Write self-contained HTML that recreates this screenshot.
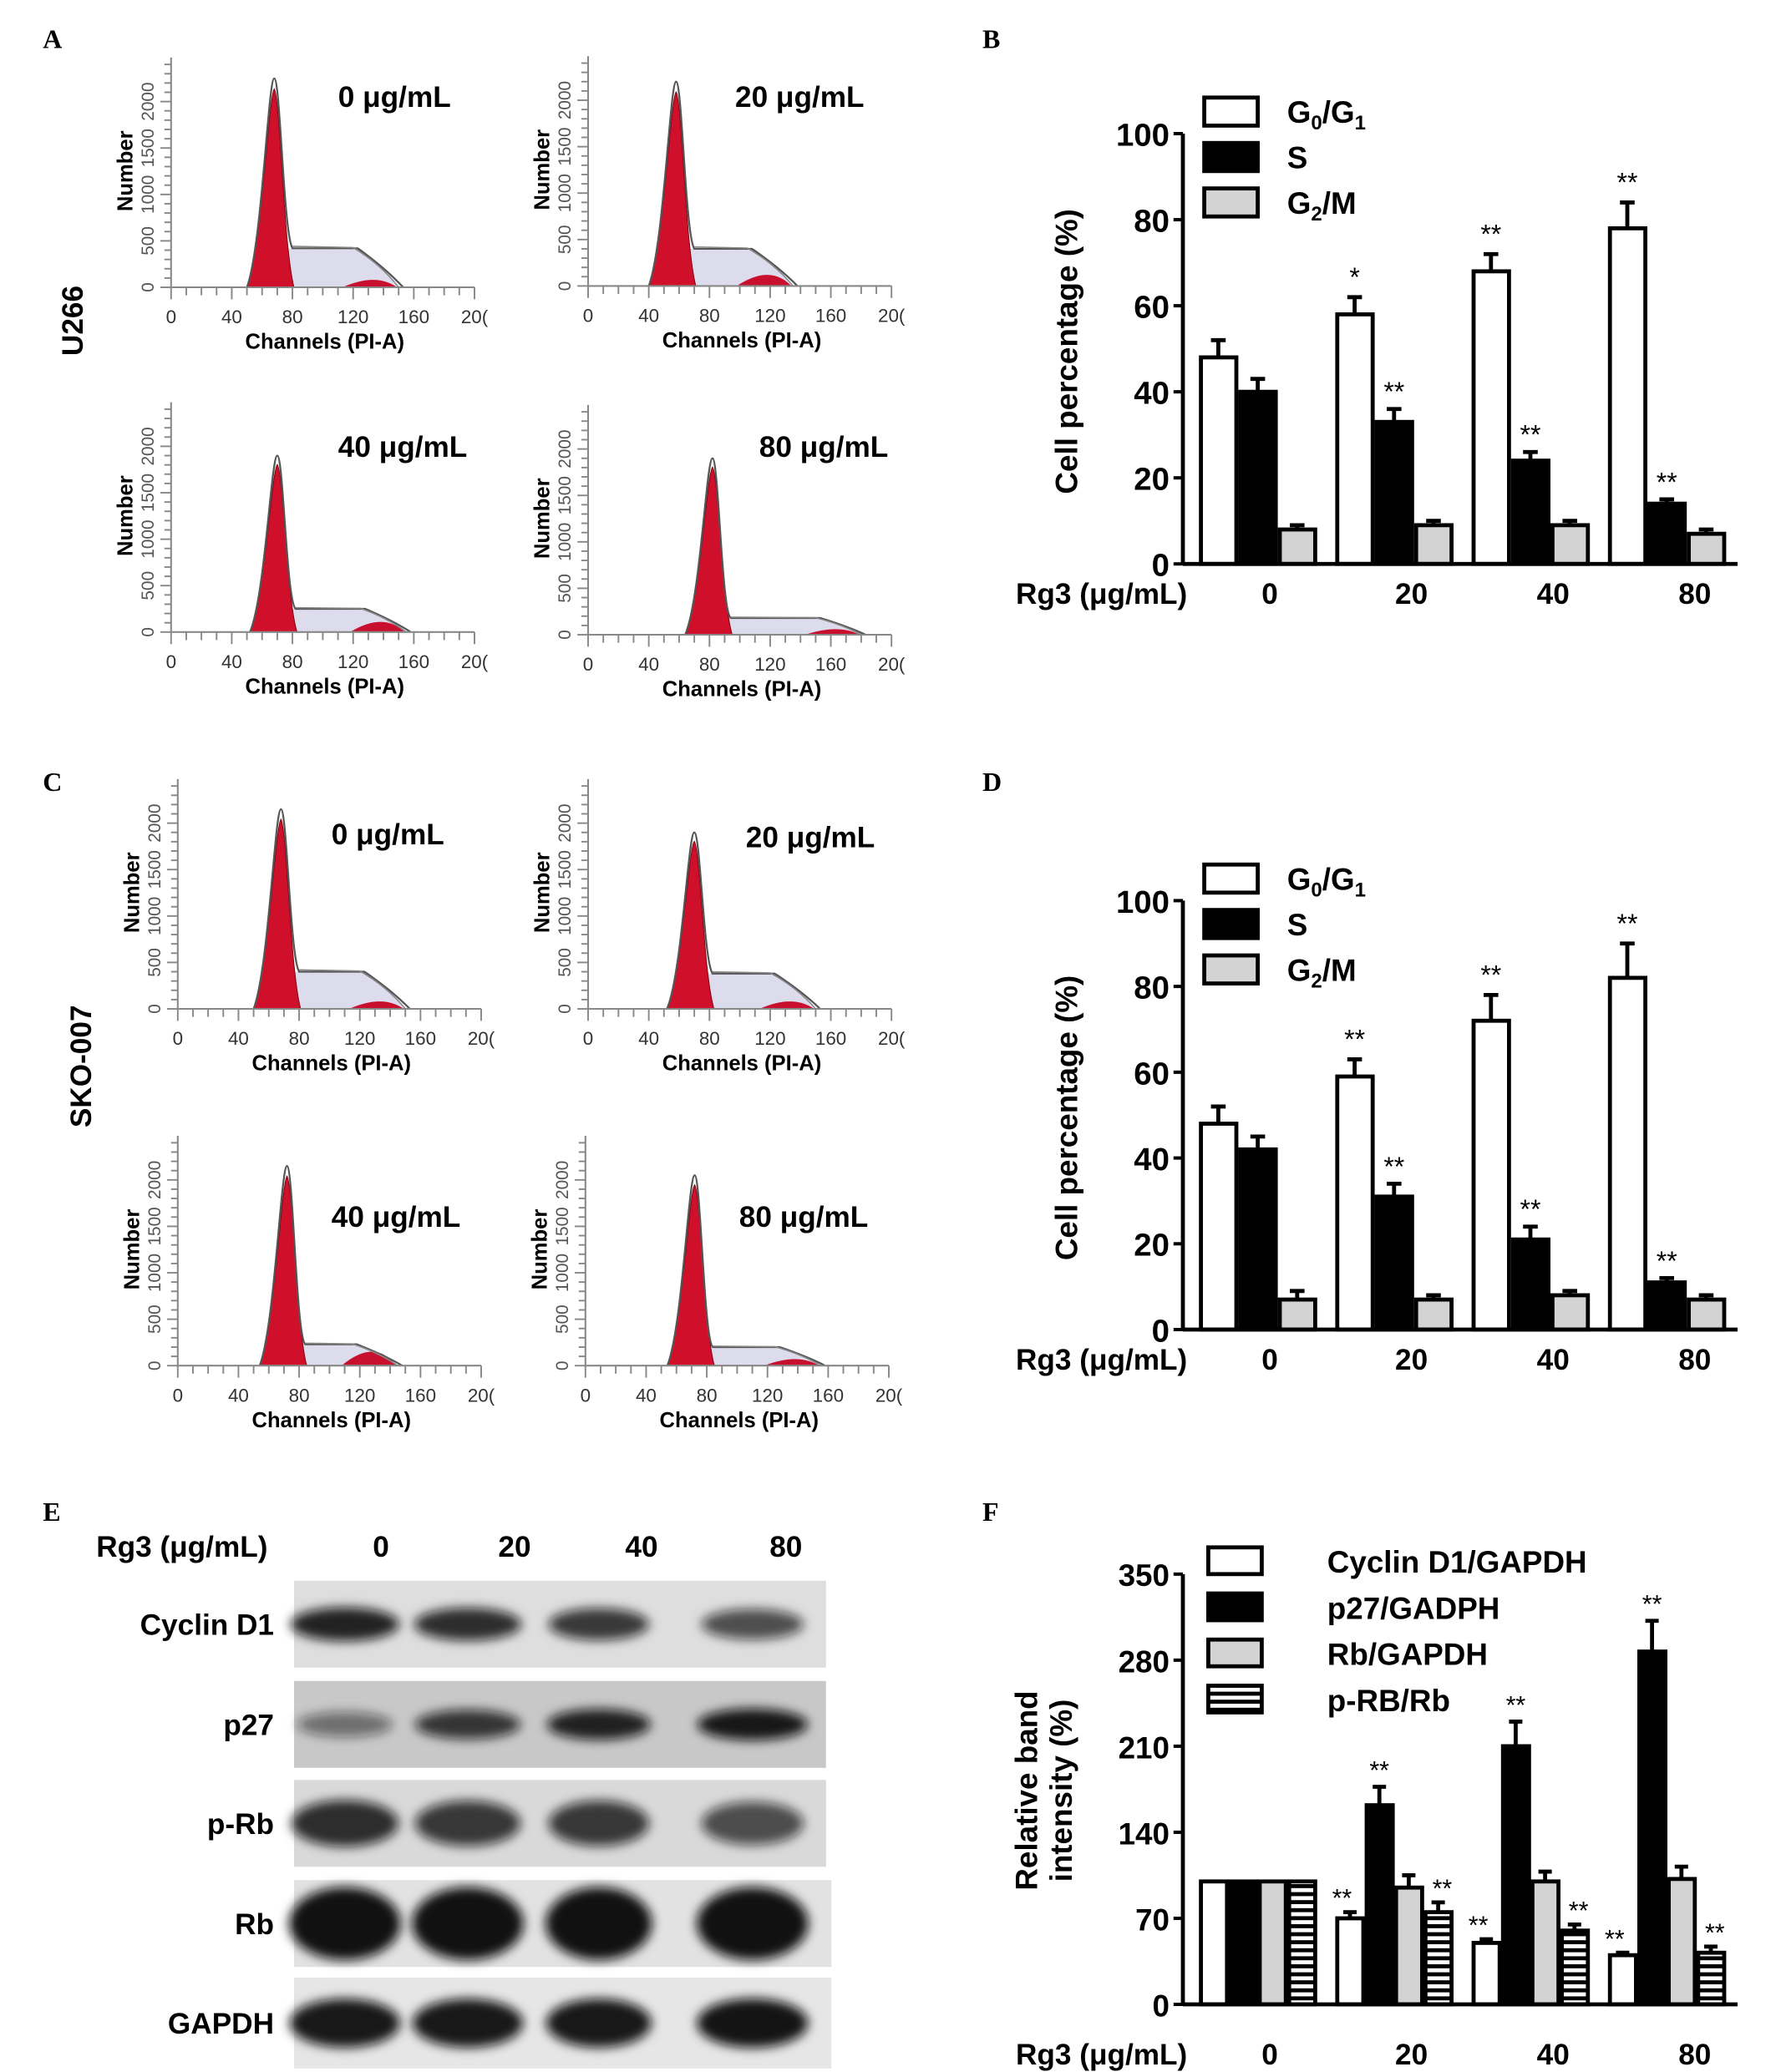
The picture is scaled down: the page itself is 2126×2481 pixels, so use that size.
<!DOCTYPE html>
<html><head><meta charset="utf-8"><style>
html,body{margin:0;padding:0;background:#fff;}
svg{display:block;}
text{font-family:"Liberation Sans",sans-serif;}
</style></head><body>
<svg id="fig" width="2126" height="2481" viewBox="0 0 1328.75 1550.6" xmlns="http://www.w3.org/2000/svg">
<defs>
<pattern id="stripes" width="6" height="6" patternUnits="userSpaceOnUse">
<rect width="6" height="6" fill="#fff"/><rect y="0" width="6" height="3" fill="#000"/>
</pattern>
<filter id="blur" x="-20%" y="-40%" width="140%" height="180%"><feGaussianBlur stdDeviation="4"/></filter>
</defs>
<g font-weight="bold" font-size="20">
<text x="32" y="36" style="font-family:'Liberation Serif',serif">A</text>
<text x="735" y="36" style="font-family:'Liberation Serif',serif">B</text>
<text x="32" y="592" style="font-family:'Liberation Serif',serif">C</text>
<text x="735" y="592" style="font-family:'Liberation Serif',serif">D</text>
<text x="32" y="1138" style="font-family:'Liberation Serif',serif">E</text>
<text x="735" y="1138" style="font-family:'Liberation Serif',serif">F</text>
</g>
<text transform="translate(62,240) rotate(-90)" text-anchor="middle" font-weight="bold" font-size="22">U266</text>
<text transform="translate(68,798) rotate(-90)" text-anchor="middle" font-weight="bold" font-size="22">SKO-007</text>
<g id="hists"></g>
<g id="bars"></g>
<g id="blot"></g>
</svg>
<script>
const NS='http://www.w3.org/2000/svg';
function el(tag,attrs,parent,txt){const e=document.createElementNS(NS,tag);for(const k in attrs)e.setAttribute(k,attrs[k]);if(txt!==undefined)e.textContent=txt;parent.appendChild(e);return e;}

// ---------- Flow histograms ----------
const histTitles=['0 μg/mL','20 μg/mL','40 μg/mL','80 μg/mL','0 μg/mL','20 μg/mL','40 μg/mL','80 μg/mL'];
const histPeakChannel=[68,58,70,82,68,70,72,72];
const histPeakCount=[2250,2200,1900,1900,2150,1900,2150,2050];
const histSLevel=[420,400,250,180,400,380,230,200];
const histG2Channel=[135,120,140,165,135,135,130,140];
const histG2Count=[80,120,110,60,80,80,150,70];
const histOrigins=[[128,215],[440,214],[128,473],[440,475],[133,755],[440,755],[133,1022],[438,1022]];
const histTitlePos=[[253,80],[550,80],[253,342],[568,342],[248,632],[558,634],[248,918],[553,918]];
const histNames=['a-0','a-20','a-40','a-80','c-0','c-20','c-40','c-80'];
const H=document.getElementById('hists');
histTitles.forEach((t,i)=>{
  const [ox,oy]=histOrigins[i];
  const g=el('g',{},H);
  
  
  const sx=c=>ox+c*1.135, sy=n=>oy-n*0.0695;
  const p=histPeakChannel[i],h=histPeakCount[i],s=histSLevel[i],g2=histG2Channel[i],g2h=histG2Count[i];
  const lav=el('path',{d:`M${sx(p)},${sy(0)} L${sx(p+8)},${sy(s)} L${sx(g2-10)},${sy(s)} Q${sx(g2+5)},${sy(s*0.5)} ${sx(g2+14)},${sy(0)} Z`,fill:'#dcdcec'},g);
  
  
  const g2p=el('path',{d:`M${sx(g2-22)},${sy(0)} Q${sx(g2)},${sy(g2h*2)} ${sx(g2+14)},${sy(0)} Z`,fill:'#c8102e'},g);
  
  
  const pk=el('path',{d:`M${sx(p-18)},${sy(0)} C${sx(p-8)},${sy(h*0.2)} ${sx(p-4)},${sy(h*0.9)} ${sx(p)},${sy(h*0.95)} C${sx(p+4)},${sy(h*0.9)} ${sx(p+6)},${sy(h*0.2)} ${sx(p+13)},${sy(0)} Z`,fill:'#d0102a',stroke:'#7a0010','stroke-width':0.6},g);
  
  
  const oc=el('path',{d:`M${sx(p-18)},${sy(0)} C${sx(p-8)},${sy(h*0.2)} ${sx(p-4)},${sy(h)} ${sx(p)},${sy(h)} C${sx(p+4)},${sy(h)} ${sx(p+6)},${sy(s*1.4)} ${sx(p+12)},${sy(s)} L${sx(g2-12)},${sy(s)} Q${sx(g2+6)},${sy(s*0.5)} ${sx(g2+18)},${sy(0)}`,fill:'none',stroke:'#555','stroke-width':1.4},g);
  
  
  const oc2=el('path',{d:`M${sx(p+12)},${sy(s*1.05)} L${sx(g2-15)},${sy(s*1.02)} Q${sx(g2+3)},${sy(s*0.6)} ${sx(g2+15)},${sy(0)}`,fill:'none',stroke:'#888','stroke-width':1},g);
  
  
  el('line',{x1:ox,y1:oy,x2:ox,y2:oy-172,stroke:'#888','stroke-width':1.3},g);
  el('line',{x1:ox,y1:oy,x2:sx(200),y2:oy,stroke:'#888','stroke-width':1.3},g);
  for(let c=0;c<=200;c+=10){el('line',{x1:sx(c),y1:oy,x2:sx(c),y2:oy+(c%40===0?9:6),stroke:'#888','stroke-width':1.2},g);}
  for(let n=0;n<=2400;n+=100){el('line',{x1:ox,y1:sy(n),x2:ox-(n%500===0?8:5),y2:sy(n),stroke:'#888','stroke-width':1.2},g);}
  ['0','40','80','120','160','20('].forEach((lab,k)=>{el('text',{x:sx(k*40),y:oy+27,'text-anchor':'middle','font-size':14,fill:'#333'},g,lab);});
  ['0','500','1000','1500','2000'].forEach((lab,k)=>{el('text',{transform:`translate(${ox-13},${sy(k*500)}) rotate(-90)`,'text-anchor':'middle','font-size':13,fill:'#555'},g,lab);});
  el('text',{transform:`translate(${ox-29},${oy-87}) rotate(-90)`,'text-anchor':'middle','font-size':16,'font-weight':'bold'},g,'Number');
  el('text',{x:ox+115,y:oy+46,'text-anchor':'middle','font-size':16,'font-weight':'bold'},g,'Channels (PI-A)');
  const [tx,ty]=histTitlePos[i];
  el('text',{x:tx,y:ty,'font-size':22,'font-weight':'bold'},g,t);
});

// ---------- Bar charts B / D ----------
const groups=['0','20','40','80'];
const bG1=[48,58,68,78], bG1Err=[4,4,4,6];
const bS=[40,33,24,14], bSErr=[3,3,2,1];
const bG2=[8,9,9,7], bG2Err=[1,1,1,1];
const bStarsG1=['','*','**','**'], bStarsS=['','**','**','**'];
const dG1=[48,59,72,82], dG1Err=[4,4,6,8];
const dS=[42,31,21,11], dSErr=[3,3,3,1];
const dG2=[7,7,8,7], dG2Err=[2,1,1,1];
const dStarsG1=['','**','**','**'], dStarsS=['','**','**','**'];
const pctTicks=[0,20,40,60,80,100];
const B=document.getElementById('bars');
const GSP=102;

function cellChart(name,y0,y100,series,errs,stars){
  const g=el('g',{},B);
  
  
  const ax=885, yv=v=>y0-(y0-y100)*v/100;
  const fills=['#fff','#000','#d3d3d3'];
  const sn=['g0g1','s','g2m'];
  groups.forEach((gr,gi)=>{
    const gx=897+gi*GSP;
    series.forEach((ser,si)=>{
      const x=gx+si*29.5, v=ser[gi], e=errs[si][gi];
      el('line',{x1:x+14.5,y1:yv(v),x2:x+14.5,y2:yv(v+e),stroke:'#000','stroke-width':3},g);
      el('line',{x1:x+9,y1:yv(v+e),x2:x+20,y2:yv(v+e),stroke:'#000','stroke-width':3},g);
      const r=el('rect',{x:x+1.5,y:yv(v),width:26.5,height:y0-yv(v),fill:fills[si],stroke:'#000','stroke-width':3},g);
      
      
    });
    if(stars[0][gi])el('text',{x:gx+14.5,y:yv(series[0][gi]+errs[0][gi])-8,'text-anchor':'middle','font-size':20},g,stars[0][gi]);
    if(stars[1][gi])el('text',{x:gx+44,y:yv(series[1][gi]+errs[1][gi])-6,'text-anchor':'middle','font-size':20},g,stars[1][gi]);
    el('text',{x:950+gi*106,y:y0+30,'text-anchor':'middle','font-size':22,'font-weight':'bold'},g,gr);
  });
  el('line',{x1:ax,y1:y0,x2:1300,y2:y0,stroke:'#000','stroke-width':3},g);
  el('line',{x1:ax,y1:y0+1,x2:ax,y2:y100,stroke:'#000','stroke-width':3},g);
  pctTicks.forEach(t=>{
    el('line',{x1:ax-7,y1:yv(t),x2:ax,y2:yv(t),stroke:'#000','stroke-width':2.5},g);
    el('text',{x:ax-10,y:yv(t)+9,'text-anchor':'end','font-size':24,'font-weight':'bold'},g,t);
  });
  el('text',{transform:`translate(806,${(y0+y100)/2+2}) rotate(-90)`,'text-anchor':'middle','font-size':23,'font-weight':'bold'},g,'Cell percentage (%)');
  el('text',{x:760,y:y0+30,'font-size':22,'font-weight':'bold'},g,'Rg3 (μg/mL)');
  const lg=el('g',{},g);
  
  
  const labs=[['G','0','/G','1'],['S'],['G','2','/M']];
  labs.forEach((l,k)=>{
    const ly=y100-27+k*34;
    el('rect',{x:901,y:ly,width:40,height:21,fill:fills[k],stroke:'#000','stroke-width':3},lg);
    const t=el('text',{x:963,y:ly+19,'font-size':23,'font-weight':'bold'},lg);
    l.forEach((p,pi)=>{el('tspan',(pi%2===1)?{'font-size':15,dy:5}:(pi>0?{dy:-5}:{}),t,p);});
  });
}
cellChart('chart-b-u266',422,100,[bG1,bS,bG2],[bG1Err,bSErr,bG2Err],[bStarsG1,bStarsS]);
cellChart('chart-d-sko007',995,674,[dG1,dS,dG2],[dG1Err,dSErr,dG2Err],[dStarsG1,dStarsS]);

// ---------- Chart F ----------
const fCyclin=[100,70,50,40], fCyclinErr=[0,5,3,2];
const fP27=[100,162,210,287], fP27Err=[0,15,20,25];
const fRb=[100,95,100,102], fRbErr=[0,10,8,10];
const fPRb=[100,75,60,42], fPRbErr=[0,8,5,5];
const fStars=[['','**','**','**'],['','**','**','**'],['','','',''],['','**','**','**']];
const fTicks=[0,70,140,210,280,350];
const fLegend=['Cyclin D1/GAPDH','p27/GADPH','Rb/GAPDH','p-RB/Rb'];
(function(){
  const g=el('g',{},B);
  
  
  const y0=1500,ytop=1178,ax=885,yv=v=>y0-(y0-ytop)*v/350;
  const series=[fCyclin,fP27,fRb,fPRb], errs=[fCyclinErr,fP27Err,fRbErr,fPRbErr];
  const fills=['#fff','#000','#d3d3d3','url(#stripes)'];
  const sn=['cyclin','p27','rb','prb'];
  groups.forEach((gr,gi)=>{
    const gx=897+gi*GSP;
    series.forEach((ser,si)=>{
      const x=gx+si*22,v=ser[gi],e=errs[si][gi];
      if(e>0){el('line',{x1:x+11,y1:yv(v),x2:x+11,y2:yv(v+e),stroke:'#000','stroke-width':3},g);
      el('line',{x1:x+6,y1:yv(v+e),x2:x+16,y2:yv(v+e),stroke:'#000','stroke-width':3},g);}
      const r=el('rect',{x:x+1.5,y:yv(v),width:19.5,height:y0-yv(v),fill:fills[si],stroke:'#000','stroke-width':3},g);
      
      
      if(fStars[si][gi])el('text',{x:x+11+(si===0?-6:(si===3?3:0)),y:yv(v+e)-(si===1?6:4),'text-anchor':'middle','font-size':19},g,fStars[si][gi]);
    });
    el('text',{x:950+gi*106,y:y0+45,'text-anchor':'middle','font-size':22,'font-weight':'bold'},g,gr);
  });
  el('line',{x1:ax,y1:y0,x2:1300,y2:y0,stroke:'#000','stroke-width':3},g);
  el('line',{x1:ax,y1:y0+1,x2:ax,y2:ytop,stroke:'#000','stroke-width':3},g);
  fTicks.forEach(t=>{
    el('line',{x1:ax-7,y1:yv(t),x2:ax,y2:yv(t),stroke:'#000','stroke-width':2.5},g);
    el('text',{x:ax-10,y:yv(t)+9,'text-anchor':'end','font-size':23,'font-weight':'bold'},g,t);
  });
  el('text',{transform:'translate(776,1340) rotate(-90)','text-anchor':'middle','font-size':23,'font-weight':'bold'},g,'Relative band');
  el('text',{transform:'translate(802,1340) rotate(-90)','text-anchor':'middle','font-size':23,'font-weight':'bold'},g,'intensity (%)');
  el('text',{x:760,y:y0+45,'font-size':22,'font-weight':'bold'},g,'Rg3 (μg/mL)');
  fLegend.forEach((l,k)=>{
    const ly=1158+k*34.5;
    const r=el('rect',{x:904,y:ly,width:40,height:20,fill:fills[k],stroke:'#000','stroke-width':3},g);
    
    
    el('text',{x:993,y:ly+19,'font-size':23,'font-weight':'bold'},g,l);
  });
})();

// ---------- Western blot ----------
const blotRows=['Cyclin D1','p27','p-Rb','Rb','GAPDH'];
const blotLanes=['0','20','40','80'];
const blotIntensity=[[0.9,0.85,0.8,0.7],[0.5,0.8,0.9,0.95],[0.85,0.8,0.8,0.7],[0.98,0.98,0.98,0.98],[0.95,0.95,0.95,0.97]];
const blotBandH=[24,22,34,50,34];
(function(){
  const g=document.getElementById('blot');
  
  
  const rowY=[1183,1258,1332,1407,1480], rowH=[65,65,65,65,68];
  const laneX=[258,350,448,563], laneW=[84,84,80,84];
  const bg=['#dedede','#c8c8c8','#d9d9d9','#e2e2e2','#e6e6e6'];
  el('text',{x:72,y:1165,'font-size':22,'font-weight':'bold'},g,'Rg3 (μg/mL)');
  const lx=[285,385,480,588];
  blotLanes.forEach((l,i)=>el('text',{x:lx[i],y:1165,'text-anchor':'middle','font-size':22,'font-weight':'bold'},g,l));
  blotRows.forEach((r,ri)=>{
    const strip=el('rect',{x:220,y:rowY[ri],width:398+(ri>=3?4:0),height:rowH[ri],fill:bg[ri]},g);
    
    
    el('text',{x:205,y:rowY[ri]+rowH[ri]/2+8,'text-anchor':'end','font-size':22,'font-weight':'bold'},g,r);
    blotLanes.forEach((l,li)=>{
      const v=blotIntensity[ri][li];
      const b=el('ellipse',{cx:laneX[li],cy:rowY[ri]+rowH[ri]/2,rx:laneW[li]/2*(0.7+0.3*v),ry:blotBandH[ri]/2*(0.6+0.5*v),fill:'#111','fill-opacity':v,filter:'url(#blur)'},g);
      
      
    });
  });
})();
</script>
</body></html>
